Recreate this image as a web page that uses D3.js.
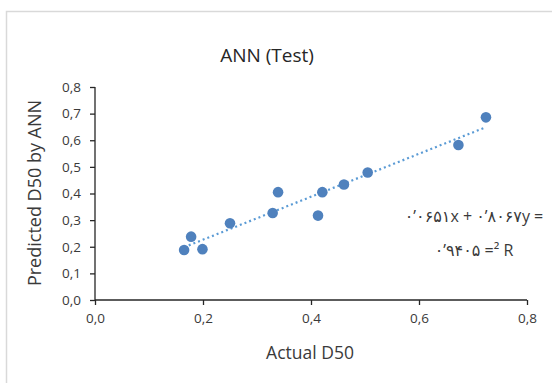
<!DOCTYPE html>
<html lang="en">
<head>
  <meta charset="UTF-8">
  <title>ANN (Test)</title>
  <style>
    body { margin: 0; background: #fff; }
    svg { display: block; }
  </style>
</head>
<body>
  <script src="https://d3js.org/d3.v7.min.js"></script>
  <script>
    'use strict';

    const actualD50 = [0.165, 0.178, 0.199, 0.250, 0.329, 0.339, 0.413, 0.421, 0.461, 0.505, 0.673, 0.724];
    const predictedD50 = [0.188, 0.238, 0.191, 0.288, 0.327, 0.405, 0.317, 0.405, 0.434, 0.479, 0.582, 0.686];

    const xTicks = [0, 0.2, 0.4, 0.6, 0.8];
    const yTicks = [0, 0.1, 0.2, 0.3, 0.4, 0.5, 0.6, 0.7, 0.8];

    const slope = 0.8067;
    const intercept = 0.0651;
    // equation as it appears (bidi-flipped persian digits)
    const eqLines = ['۰’۰۶۵۱x + ۰’۸۰۶۷y =', '۰’۹۴۰۵ =² R'];

    const width = 552;
    const height = 383;
    const plotLeft = 95, plotRight = 527, plotTop = 87, plotBottom = 300;

    const font = '"Open Sans", "DejaVu Sans", sans-serif';
    const textColor = '#3a3a3a';
    const blue = '#4f81bd';

    const svg = d3.select('body')
      .append('svg')
      .attr('width', width)
      .attr('height', height);

    // chart frame
    svg.append('rect')
      .attr('x', 6.5).attr('y', 11.5)
      .attr('width', 600).attr('height', 450)
      .attr('fill', '#fff')
      .attr('stroke', '#d9d9d9')
      .attr('stroke-width', 1.5);

    const x = d3.scaleLinear().domain([0, 0.8]).range([plotLeft, plotRight]);
    const y = d3.scaleLinear().domain([0, 0.8]).range([plotBottom, plotTop]);

    const fmt = d => d3.format('.1f')(d).replace('.', ',');

    const xAxis = d3.axisBottom(x).tickValues(xTicks).tickFormat(fmt).tickSize(5).tickPadding(8);
    const yAxis = d3.axisLeft(y).tickValues(yTicks).tickFormat(fmt).tickSize(5).tickPadding(9);

    const gx = svg.append('g')
      .attr('transform', 'translate(0,' + plotBottom + ')')
      .call(xAxis);
    const gy = svg.append('g')
      .attr('transform', 'translate(' + plotLeft + ',0)')
      .call(yAxis);

    [gx, gy].forEach(g => {
      g.select('.domain').attr('stroke', '#262626').attr('stroke-width', 1.3);
      g.selectAll('.tick line').attr('stroke', '#262626').attr('stroke-width', 1.3);
      g.selectAll('.tick text')
        .attr('fill', textColor)
        .attr('font-family', font)
        .attr('font-size', 13.5);
    });
    // plain axis lines without the end caps
    gx.select('.domain').attr('d', 'M' + plotLeft + ',0H' + plotRight);
    gy.select('.domain').attr('d', 'M0,' + plotBottom + 'V' + plotTop);

    // trend line
    const xs = d3.extent(actualD50);
    svg.append('line')
      .attr('x1', x(xs[0])).attr('y1', y(slope * xs[0] + intercept))
      .attr('x2', x(xs[1])).attr('y2', y(slope * xs[1] + intercept))
      .attr('stroke', '#5b9bd5')
      .attr('stroke-width', 2.2)
      .attr('stroke-dasharray', '2,3');

    // points
    svg.selectAll('circle.pt')
      .data(actualD50.map((d, i) => [d, predictedD50[i]]))
      .enter().append('circle')
      .attr('class', 'pt')
      .attr('cx', d => x(d[0]))
      .attr('cy', d => y(d[1]))
      .attr('r', 5.3)
      .attr('fill', blue);

    // title
    svg.append('text')
      .attr('x', 267).attr('y', 62)
      .attr('text-anchor', 'middle')
      .attr('font-family', font)
      .attr('font-size', 19)
      .attr('fill', '#262626')
      .text('ANN (Test)');

    // axis titles
    svg.append('text')
      .attr('x', 310).attr('y', 359)
      .attr('text-anchor', 'middle')
      .attr('font-family', font)
      .attr('font-size', 17.5)
      .attr('fill', textColor)
      .text('Actual D50');

    svg.append('text')
      .attr('transform', 'translate(41,' + 193 + ') rotate(-90)')
      .attr('text-anchor', 'middle')
      .attr('font-family', font)
      .attr('font-size', 18)
      .attr('fill', textColor)
      .text('Predicted D50 by ANN');

    // equation label
    svg.selectAll('text.eq')
      .data(eqLines)
      .enter().append('text')
      .attr('class', 'eq')
      .attr('x', 474)
      .attr('y', (d, i) => 222 + i * 34)
      .attr('text-anchor', 'middle')
      .attr('direction', 'ltr')
      .attr('unicode-bidi', 'bidi-override')
      .attr('font-family', font)
      .attr('font-size', 16)
      .attr('fill', textColor)
      .text(d => d);
  </script>
</body>
</html>
